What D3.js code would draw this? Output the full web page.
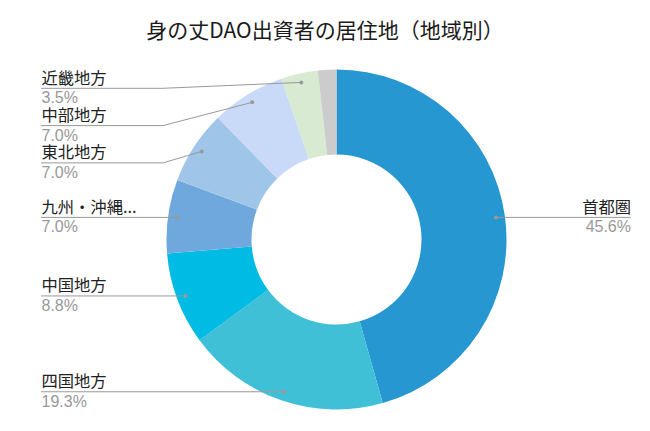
<!DOCTYPE html>
<html><head><meta charset="utf-8">
<script src="https://cdn.jsdelivr.net/npm/d3@7"></script>
<style>body{margin:0;background:#fff;}</style></head>
<body>
<svg id="chart" width="650" height="431"></svg>
<script>
const chartTitle = "身の丈DAO出資者の居住地（地域別）";
const categories = ["首都圏", "四国地方", "中国地方", "九州・沖縄...", "東北地方", "中部地方", "近畿地方", "その他"];
const counts = [26, 11, 5, 4, 4, 4, 2, 1];
const colors = ["#2697d0", "#40c0d7", "#00bbe3", "#6fa8dc", "#9fc5e8", "#c9daf8", "#d9ead3", "#cccccc"];

const W = 650, H = 431;
const cx = 336.5, cy = 239.5, rOuter = 170, rInner = 85, rDot = 161;
const font = "'Noto Sans CJK JP', 'Noto Sans', sans-serif";
const numFont = "'Liberation Sans', Arial, sans-serif";
const svg = d3.select("#chart");
svg.append("rect").attr("width", W).attr("height", H).attr("fill", "#fff");

svg.append("text").attr("x", 325).attr("y", 38).attr("text-anchor", "middle")
  .attr("font-family", font).attr("font-size", 21).attr("fill", "#1a1a1a").text(chartTitle);

const total = d3.sum(counts);
const pct = d3.format(".1%");
const data = categories.map((c, i) => ({name: c, value: counts[i], color: colors[i]}));
const pie = d3.pie().sort(null).value(d => d.value);
const arcs = pie(data);
const arc = d3.arc().innerRadius(rInner).outerRadius(rOuter);

const g = svg.append("g").attr("transform", `translate(${cx},${cy})`);
g.selectAll("path").data(arcs).join("path").attr("d", arc).attr("fill", d => d.data.color);

// labels
const labeled = arcs.filter(a => a.data.value / total >= 0.02).map(a => {
  const m = (a.startAngle + a.endAngle) / 2;
  return {a, m, px: cx + rDot * Math.sin(m), py: cy - rDot * Math.cos(m), right: Math.sin(m) > 0};
});
const minY = 88.3, gap = 37.3;
["left", "right"].forEach(side => {
  const arr = labeled.filter(l => (side === "right") === l.right).sort((p, q) => p.py - q.py);
  let prev = -Infinity;
  arr.forEach(l => { l.ly = Math.max(l.py, minY, prev + gap); prev = l.ly; });
});

const leftX = 41, elbowX = 163, rightX = 631;
const lg = svg.append("g");
labeled.forEach(l => {
  const pts = l.right ? [[l.px, l.py], [rightX, l.ly]] : [[leftX, l.ly], [elbowX, l.ly], [l.px, l.py]];
  lg.append("path").attr("d", d3.line()(pts)).attr("fill", "none").attr("stroke", "#999").attr("stroke-width", 1);
  lg.append("circle").attr("cx", l.px).attr("cy", l.py).attr("r", 2).attr("fill", "#999");
  const tx = l.right ? rightX : leftX + 0.5;
  const anchor = l.right ? "end" : "start";
  lg.append("text").attr("x", tx).attr("y", l.ly - 4.5).attr("text-anchor", anchor)
    .attr("font-family", font).attr("font-size", 16.3).attr("fill", "#222").text(l.a.data.name);
  lg.append("text").attr("x", tx).attr("y", l.ly + 15).attr("text-anchor", anchor)
    .attr("font-family", numFont).attr("font-size", 16).attr("fill", "#999").text(pct(l.a.data.value / total));
});
</script>
</body></html>
